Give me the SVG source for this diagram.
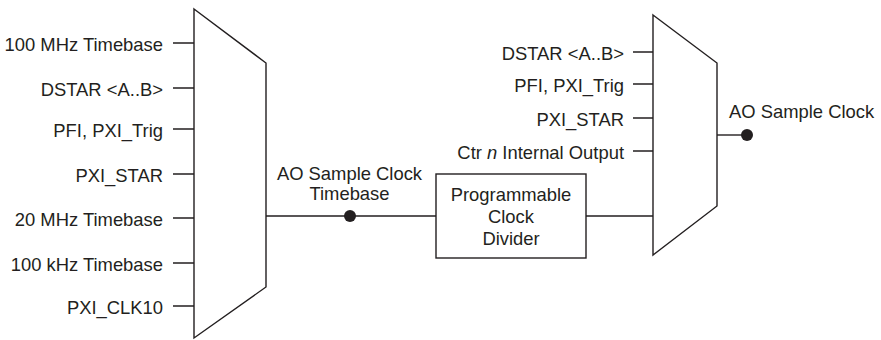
<svg xmlns="http://www.w3.org/2000/svg" width="881" height="340" viewBox="0 0 881 340">
<style>
.s{fill:none;stroke:#231f20;stroke-width:1.4}
.b{fill:#fff;stroke:#231f20;stroke-width:1.4}
text{font-family:"Liberation Sans",Arial,sans-serif;font-size:18.4px;fill:#231f20}
.r{text-anchor:end}
.m{text-anchor:middle}
.d{fill:#231f20}
</style>
<rect width="881" height="340" fill="#fff"/>
<g id="connectors">
<path class="s" d="M173 43H194M173 88H194M173 129H194M173 174H194M173 218H194M173 263H194M173 306H194"/>
<path class="s" d="M266 216H436M586 216H653"/>
<path class="s" d="M633 52H653M633 84H653M633 118H653M633 151H653"/>
<path class="s" d="M717 135H747"/>
<circle class="d" cx="350" cy="216" r="6"/>
<circle class="d" cx="747" cy="135" r="6"/>
</g>
<g id="left-mux">
<polygon class="b" points="194,9 266,63 266,287 194,338"/>
</g>
<g id="left-inputs">
<text class="r" x="163" y="51">100 MHz Timebase</text>
<text class="r" x="163" y="96">DSTAR &lt;A..B&gt;</text>
<text class="r" x="163" y="137">PFI, PXI_Trig</text>
<text class="r" x="163" y="182">PXI_STAR</text>
<text class="r" x="163" y="226">20 MHz Timebase</text>
<text class="r" x="163" y="271">100 kHz Timebase</text>
<text class="r" x="163" y="314">PXI_CLK10</text>
</g>
<g id="timebase-label">
<text class="m" x="349.5" y="180">AO Sample Clock</text>
<text class="m" x="349.5" y="200">Timebase</text>
</g>
<g id="divider">
<rect class="b" x="436" y="174" width="150" height="84"/>
<text class="m" x="511" y="201">Programmable</text>
<text class="m" x="511" y="223">Clock</text>
<text class="m" x="511" y="245">Divider</text>
</g>
<g id="right-mux">
<polygon class="b" points="653,15 717,63 717,206 653,255"/>
</g>
<g id="right-inputs">
<text class="r" x="624" y="60">DSTAR &lt;A..B&gt;</text>
<text class="r" x="624" y="92">PFI, PXI_Trig</text>
<text class="r" x="624" y="126">PXI_STAR</text>
<text class="r" x="624" y="159">Ctr <tspan font-style="italic">n</tspan> Internal Output</text>
</g>
<g id="output-label">
<text x="729" y="118">AO Sample Clock</text>
</g>
</svg>
